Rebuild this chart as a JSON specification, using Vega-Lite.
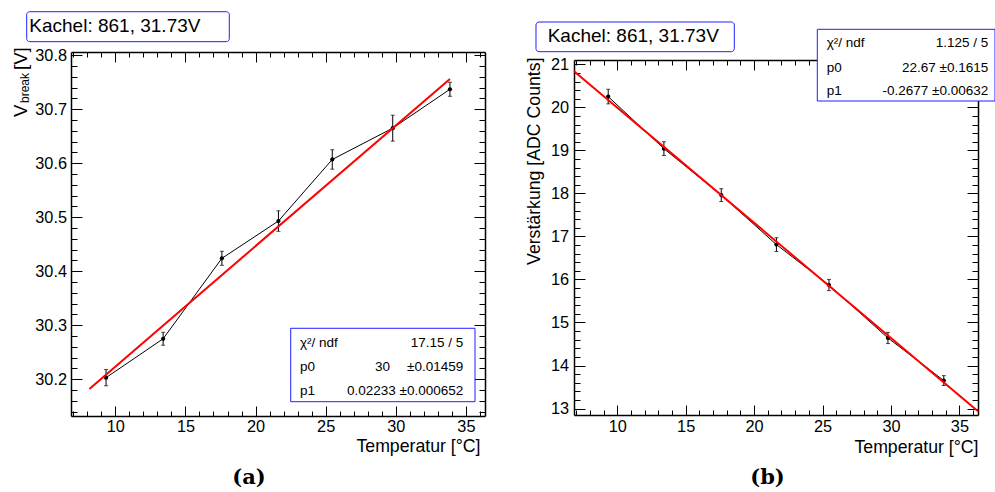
{
  "$schema": "https://vega.github.io/schema/vega-lite/v6.json",
  "autosize": {"type": "pad"},
  "padding": {"left": 11, "top": 11, "right": 0, "bottom": 0},
  "background": "white",
  "config": {
    "view": {"stroke": null},
    "font": "Liberation Sans",
    "axis": {
      "grid": false,
      "labelFont": "Liberation Sans",
      "labelFontSize": 16.3,
      "labelColor": "black",
      "labelFlush": false,
      "labelOverlap": false,
      "labelBound": false,
      "tickColor": "black",
      "tickWidth": 1,
      "domainColor": "black",
      "domainWidth": 1.5,
      "titleFont": "Liberation Sans",
      "titleFontSize": 17.7,
      "titleFontWeight": "normal",
      "titleColor": "black"
    }
  },
  "datasets": {
    "messung": [
      {"T": 9.34, "V": 30.203, "dV": 0.015, "G": 20.25, "dG": 0.17},
      {"T": 13.41, "V": 30.275, "dV": 0.012, "G": 19.04, "dG": 0.16},
      {"T": 17.6, "V": 30.424, "dV": 0.013, "G": 17.96, "dG": 0.15},
      {"T": 21.63, "V": 30.493, "dV": 0.019, "G": 16.81, "dG": 0.16},
      {"T": 25.47, "V": 30.607, "dV": 0.018, "G": 15.87, "dG": 0.13},
      {"T": 29.78, "V": 30.665, "dV": 0.024, "G": 14.64, "dG": 0.13},
      {"T": 33.86, "V": 30.737, "dV": 0.013, "G": 13.65, "dG": 0.115}
    ],
    "fitV": [{"T": 8.15, "V": 30.182}, {"T": 33.86, "V": 30.7561}],
    "fitG": [{"T": 6.84, "G": 20.8389}, {"T": 36.36, "G": 12.9364}]
  },
  "spacing": 89,
  "bounds": "flush",
  "hconcat": [
    {
      "width": 414,
      "height": 364,
      "resolve": {"axis": {"x": "independent", "y": "independent"}},
      "layer": [
        {
          "data": {"name": "messung"},
          "mark": {"type": "line", "color": "black", "strokeWidth": 1},
          "encoding": {
            "x": {"field": "T", "type": "quantitative", "scale": {"domain": [6.84, 36.36], "nice": false, "zero": false},
              "axis": {"orient": "bottom", "values": [7,8,9,10,11,12,13,14,15,16,17,18,19,20,21,22,23,24,25,26,27,28,29,30,31,32,33,34,35,36],
                "labelExpr": "datum.value % 5 === 0 ? datum.label : ''",
                "tickSize": {"condition": {"test": "datum.value % 5 === 0", "value": -10}, "value": -5},
                "labelPadding": 12,
                "title": "Temperatur [°C]", "titleAnchor": "end", "titleAlign": "right", "titleBaseline": "alphabetic", "titleX": 409, "titleY": 35.5}},
            "y": {"field": "V", "type": "quantitative", "scale": {"domain": [30.132, 30.806], "nice": false, "zero": false},
              "axis": {"orient": "left", "values": [30.14,30.16,30.18,30.2,30.22,30.24,30.26,30.28,30.3,30.32,30.34,30.36,30.38,30.4,30.42,30.44,30.46,30.48,30.5,30.52,30.54,30.56,30.58,30.6,30.62,30.64,30.66,30.68,30.7,30.72,30.74,30.76,30.78,30.8],
                "labelExpr": "abs(datum.value*10 - round(datum.value*10)) < 0.001 ? format(datum.value, '.1f') : ''",
                "tickSize": {"condition": {"test": "abs(datum.value*10 - round(datum.value*10)) < 0.001", "value": -11}, "value": -6},
                "labelPadding": 15.5,
                "title": null}}
          }
        },
        {
          "data": {"name": "messung"},
          "mark": {"type": "errorbar", "color": "black", "thickness": 1, "ticks": {"size": 4, "thickness": 1, "color": "black"}},
          "encoding": {
            "x": {"field": "T", "type": "quantitative", "scale": {"domain": [6.84, 36.36], "nice": false, "zero": false}, "axis": null},
            "y": {"field": "V", "type": "quantitative", "scale": {"domain": [30.132, 30.806], "nice": false, "zero": false}, "axis": null},
            "yError": {"field": "dV"}
          }
        },
        {
          "data": {"name": "messung"},
          "mark": {"type": "point", "shape": "circle", "filled": true, "color": "black", "size": 18, "opacity": 1},
          "encoding": {
            "x": {"field": "T", "type": "quantitative", "scale": {"domain": [6.84, 36.36], "nice": false, "zero": false}, "axis": null},
            "y": {"field": "V", "type": "quantitative", "scale": {"domain": [30.132, 30.806], "nice": false, "zero": false}, "axis": null}
          }
        },
        {
          "data": {"name": "fitV"},
          "mark": {"type": "line", "color": "#ff0000", "strokeWidth": 2},
          "encoding": {
            "x": {"field": "T", "type": "quantitative", "scale": {"domain": [6.84, 36.36], "nice": false, "zero": false},
              "axis": {"orient": "top", "labels": false, "title": null, "values": [7,8,9,10,11,12,13,14,15,16,17,18,19,20,21,22,23,24,25,26,27,28,29,30,31,32,33,34,35,36],
                "tickSize": {"condition": {"test": "datum.value % 5 === 0", "value": -10}, "value": -5}}},
            "y": {"field": "V", "type": "quantitative", "scale": {"domain": [30.132, 30.806], "nice": false, "zero": false},
              "axis": {"orient": "right", "labels": false, "title": null, "values": [30.14,30.16,30.18,30.2,30.22,30.24,30.26,30.28,30.3,30.32,30.34,30.36,30.38,30.4,30.42,30.44,30.46,30.48,30.5,30.52,30.54,30.56,30.58,30.6,30.62,30.64,30.66,30.68,30.7,30.72,30.74,30.76,30.78,30.8],
                "tickSize": {"condition": {"test": "abs(datum.value*10 - round(datum.value*10)) < 0.001", "value": -11}, "value": -6}}}
          }
        },
        {
          "data": {"values": [{}]},
          "mark": {"type": "rect", "fill": "white", "stroke": "#1f1fff", "strokeWidth": 1, "cornerRadius": 3, "clip": false},
          "encoding": {
            "x": {"datum": 3.681, "type": "quantitative", "scale": {"domain": [6.84, 36.36], "nice": false, "zero": false}, "axis": null},
            "x2": {"datum": 18.128},
            "y": {"datum": 30.8806, "type": "quantitative", "scale": {"domain": [30.132, 30.806], "nice": false, "zero": false}, "axis": null},
            "y2": {"datum": 30.8251}
          }
        },
        {
          "data": {"values": [{}]},
          "mark": {"type": "text", "text": "Kachel: 861, 31.73V", "align": "left", "baseline": "alphabetic", "fontSize": 19, "font": "Liberation Sans", "color": "black", "clip": false},
          "encoding": {
            "x": {"datum": 3.867, "type": "quantitative", "scale": {"domain": [6.84, 36.36], "nice": false, "zero": false}, "axis": null},
            "y": {"datum": 30.8436, "type": "quantitative", "scale": {"domain": [30.132, 30.806], "nice": false, "zero": false}, "axis": null}
          }
        },
        {
          "data": {"values": [{}]},
          "mark": {"type": "rect", "fill": "white", "stroke": "#1f1fff", "strokeWidth": 1, "clip": false},
          "encoding": {
            "x": {"datum": 22.506, "type": "quantitative", "scale": {"domain": [6.84, 36.36], "nice": false, "zero": false}, "axis": null},
            "x2": {"datum": 35.648},
            "y": {"datum": 30.2944, "type": "quantitative", "scale": {"domain": [30.132, 30.806], "nice": false, "zero": false}, "axis": null},
            "y2": {"datum": 30.1585}
          }
        },
        {
          "data": {"values": [{}]},
          "mark": {"type": "text", "text": "χ²/ ndf", "align": "left", "baseline": "alphabetic", "fontSize": 13.5, "color": "black", "clip": false},
          "encoding": {
            "x": {"datum": 23.169, "type": "quantitative", "scale": {"domain": [6.84, 36.36], "nice": false, "zero": false}, "axis": null},
            "y": {"datum": 30.2603, "type": "quantitative", "scale": {"domain": [30.132, 30.806], "nice": false, "zero": false}, "axis": null}
          }
        },
        {
          "data": {"values": [{}]},
          "mark": {"type": "text", "text": "17.15 / 5", "align": "right", "baseline": "alphabetic", "fontSize": 13.5, "color": "black", "clip": false},
          "encoding": {
            "x": {"datum": 34.814, "type": "quantitative", "scale": {"domain": [6.84, 36.36], "nice": false, "zero": false}, "axis": null},
            "y": {"datum": 30.2603, "type": "quantitative", "scale": {"domain": [30.132, 30.806], "nice": false, "zero": false}, "axis": null}
          }
        },
        {
          "data": {"values": [{}]},
          "mark": {"type": "text", "text": "p0", "align": "left", "baseline": "alphabetic", "fontSize": 13.5, "color": "black", "clip": false},
          "encoding": {
            "x": {"datum": 23.169, "type": "quantitative", "scale": {"domain": [6.84, 36.36], "nice": false, "zero": false}, "axis": null},
            "y": {"datum": 30.2159, "type": "quantitative", "scale": {"domain": [30.132, 30.806], "nice": false, "zero": false}, "axis": null}
          }
        },
        {
          "data": {"values": [{}]},
          "mark": {"type": "text", "text": "30", "align": "right", "baseline": "alphabetic", "fontSize": 13.5, "color": "black", "clip": false},
          "encoding": {
            "x": {"datum": 29.587, "type": "quantitative", "scale": {"domain": [6.84, 36.36], "nice": false, "zero": false}, "axis": null},
            "y": {"datum": 30.2159, "type": "quantitative", "scale": {"domain": [30.132, 30.806], "nice": false, "zero": false}, "axis": null}
          }
        },
        {
          "data": {"values": [{}]},
          "mark": {"type": "text", "text": "±0.01459", "align": "right", "baseline": "alphabetic", "fontSize": 13.5, "color": "black", "clip": false},
          "encoding": {
            "x": {"datum": 34.814, "type": "quantitative", "scale": {"domain": [6.84, 36.36], "nice": false, "zero": false}, "axis": null},
            "y": {"datum": 30.2159, "type": "quantitative", "scale": {"domain": [30.132, 30.806], "nice": false, "zero": false}, "axis": null}
          }
        },
        {
          "data": {"values": [{}]},
          "mark": {"type": "text", "text": "p1", "align": "left", "baseline": "alphabetic", "fontSize": 13.5, "color": "black", "clip": false},
          "encoding": {
            "x": {"datum": 23.169, "type": "quantitative", "scale": {"domain": [6.84, 36.36], "nice": false, "zero": false}, "axis": null},
            "y": {"datum": 30.1714, "type": "quantitative", "scale": {"domain": [30.132, 30.806], "nice": false, "zero": false}, "axis": null}
          }
        },
        {
          "data": {"values": [{}]},
          "mark": {"type": "text", "text": "0.02233 ±0.000652", "align": "right", "baseline": "alphabetic", "fontSize": 13.5, "color": "black", "clip": false},
          "encoding": {
            "x": {"datum": 34.814, "type": "quantitative", "scale": {"domain": [6.84, 36.36], "nice": false, "zero": false}, "axis": null},
            "y": {"datum": 30.1714, "type": "quantitative", "scale": {"domain": [30.132, 30.806], "nice": false, "zero": false}, "axis": null}
          }
        },
        {
          "data": {"values": [{}]},
          "mark": {"type": "text", "text": "V", "angle": 270, "align": "left", "baseline": "alphabetic", "fontSize": 18.5, "color": "black", "clip": false},
          "encoding": {
            "x": {"datum": 3.667, "type": "quantitative", "scale": {"domain": [6.84, 36.36], "nice": false, "zero": false}, "axis": null},
            "y": {"datum": 30.6856, "type": "quantitative", "scale": {"domain": [30.132, 30.806], "nice": false, "zero": false}, "axis": null}
          }
        },
        {
          "data": {"values": [{}]},
          "mark": {"type": "text", "text": "break", "angle": 270, "align": "left", "baseline": "alphabetic", "fontSize": 12, "color": "black", "clip": false},
          "encoding": {
            "x": {"datum": 3.88, "type": "quantitative", "scale": {"domain": [6.84, 36.36], "nice": false, "zero": false}, "axis": null},
            "y": {"datum": 30.7116, "type": "quantitative", "scale": {"domain": [30.132, 30.806], "nice": false, "zero": false}, "axis": null}
          }
        },
        {
          "data": {"values": [{}]},
          "mark": {"type": "text", "text": "[V]", "angle": 270, "align": "left", "baseline": "alphabetic", "fontSize": 18.5, "color": "black", "clip": false},
          "encoding": {
            "x": {"datum": 3.667, "type": "quantitative", "scale": {"domain": [6.84, 36.36], "nice": false, "zero": false}, "axis": null},
            "y": {"datum": 30.7727, "type": "quantitative", "scale": {"domain": [30.132, 30.806], "nice": false, "zero": false}, "axis": null}
          }
        },
        {
          "data": {"values": [{}]},
          "mark": {"type": "text", "text": "(a)", "align": "center", "baseline": "alphabetic", "fontSize": 21, "font": "DejaVu Serif", "fontWeight": "bold", "color": "black", "clip": false},
          "encoding": {
            "x": {"datum": 19.533, "type": "quantitative", "scale": {"domain": [6.84, 36.36], "nice": false, "zero": false}, "axis": null},
            "y": {"datum": 30.0055, "type": "quantitative", "scale": {"domain": [30.132, 30.806], "nice": false, "zero": false}, "axis": null}
          }
        }
      ]
    },
    {
      "spacing": 0,
      "bounds": "flush",
      "vconcat": [
        {
          "width": 404,
          "height": 8,
          "data": {"values": []},
          "mark": {"type": "text"},
          "encoding": {}
        },
        {
          "width": 404,
          "height": 355,
          "resolve": {"axis": {"x": "independent", "y": "independent"}},
          "layer": [
            {
              "data": {"name": "messung"},
              "mark": {"type": "line", "color": "black", "strokeWidth": 1},
              "encoding": {
                "x": {"field": "T", "type": "quantitative", "scale": {"domain": [6.84, 36.36], "nice": false, "zero": false},
                  "axis": {"orient": "bottom", "values": [7,8,9,10,11,12,13,14,15,16,17,18,19,20,21,22,23,24,25,26,27,28,29,30,31,32,33,34,35,36],
                    "labelExpr": "datum.value % 5 === 0 ? datum.label : ''",
                    "tickSize": {"condition": {"test": "datum.value % 5 === 0", "value": -10}, "value": -5},
                    "labelPadding": 13,
                    "title": "Temperatur [°C]", "titleAnchor": "end", "titleAlign": "right", "titleBaseline": "alphabetic", "titleX": 404, "titleY": 37}},
                "y": {"field": "G", "type": "quantitative", "scale": {"domain": [12.85, 21.1], "nice": false, "zero": false},
                  "axis": {"orient": "left", "values": [13,13.2,13.4,13.6,13.8,14,14.2,14.4,14.6,14.8,15,15.2,15.4,15.6,15.8,16,16.2,16.4,16.6,16.8,17,17.2,17.4,17.6,17.8,18,18.2,18.4,18.6,18.8,19,19.2,19.4,19.6,19.8,20,20.2,20.4,20.6,20.8,21],
                    "labelExpr": "abs(datum.value - round(datum.value)) < 0.001 ? format(datum.value, 'd') : ''",
                    "tickSize": {"condition": {"test": "abs(datum.value - round(datum.value)) < 0.001", "value": -11}, "value": -6},
                    "labelPadding": 16.5,
                    "title": "Verstärkung [ADC Counts]", "titleAngle": 270, "titleAlign": "right", "titleBaseline": "alphabetic", "titleX": -34.5, "titleY": -3}}
              }
            },
            {
              "data": {"name": "messung"},
              "mark": {"type": "errorbar", "color": "black", "thickness": 1, "ticks": {"size": 4, "thickness": 1, "color": "black"}},
              "encoding": {
                "x": {"field": "T", "type": "quantitative", "scale": {"domain": [6.84, 36.36], "nice": false, "zero": false}, "axis": null},
                "y": {"field": "G", "type": "quantitative", "scale": {"domain": [12.85, 21.1], "nice": false, "zero": false}, "axis": null},
                "yError": {"field": "dG"}
              }
            },
            {
              "data": {"name": "messung"},
              "mark": {"type": "point", "shape": "circle", "filled": true, "color": "black", "size": 18, "opacity": 1},
              "encoding": {
                "x": {"field": "T", "type": "quantitative", "scale": {"domain": [6.84, 36.36], "nice": false, "zero": false}, "axis": null},
                "y": {"field": "G", "type": "quantitative", "scale": {"domain": [12.85, 21.1], "nice": false, "zero": false}, "axis": null}
              }
            },
            {
              "data": {"name": "fitG"},
              "mark": {"type": "line", "color": "#ff0000", "strokeWidth": 2},
              "encoding": {
                "x": {"field": "T", "type": "quantitative", "scale": {"domain": [6.84, 36.36], "nice": false, "zero": false},
                  "axis": {"orient": "top", "labels": false, "title": null, "values": [7,8,9,10,11,12,13,14,15,16,17,18,19,20,21,22,23,24,25,26,27,28,29,30,31,32,33,34,35,36],
                    "tickSize": {"condition": {"test": "datum.value % 5 === 0", "value": -10}, "value": -5}}},
                "y": {"field": "G", "type": "quantitative", "scale": {"domain": [12.85, 21.1], "nice": false, "zero": false},
                  "axis": {"orient": "right", "labels": false, "title": null, "values": [13,13.2,13.4,13.6,13.8,14,14.2,14.4,14.6,14.8,15,15.2,15.4,15.6,15.8,16,16.2,16.4,16.6,16.8,17,17.2,17.4,17.6,17.8,18,18.2,18.4,18.6,18.8,19,19.2,19.4,19.6,19.8,20,20.2,20.4,20.6,20.8,21],
                    "tickSize": {"condition": {"test": "abs(datum.value - round(datum.value)) < 0.001", "value": -11}, "value": -6}}}
              }
            },
            {
              "data": {"values": [{}]},
              "mark": {"type": "rect", "fill": "white", "stroke": "#1f1fff", "strokeWidth": 1, "cornerRadius": 3, "clip": false},
              "encoding": {
                "x": {"datum": 4.063, "type": "quantitative", "scale": {"domain": [6.84, 36.36], "nice": false, "zero": false}, "axis": null},
                "x2": {"datum": 18.553},
                "y": {"datum": 21.983, "type": "quantitative", "scale": {"domain": [12.85, 21.1], "nice": false, "zero": false}, "axis": null},
                "y2": {"datum": 21.293}
              }
            },
            {
              "data": {"values": [{}]},
              "mark": {"type": "text", "text": "Kachel: 861, 31.73V", "align": "left", "baseline": "alphabetic", "fontSize": 19, "color": "black", "clip": false},
              "encoding": {
                "x": {"datum": 4.918, "type": "quantitative", "scale": {"domain": [6.84, 36.36], "nice": false, "zero": false}, "axis": null},
                "y": {"datum": 21.525, "type": "quantitative", "scale": {"domain": [12.85, 21.1], "nice": false, "zero": false}, "axis": null}
              }
            },
            {
              "data": {"values": [{}]},
              "mark": {"type": "rect", "fill": "white", "stroke": "#1f1fff", "strokeWidth": 1, "clip": false},
              "encoding": {
                "x": {"datum": 24.618, "type": "quantitative", "scale": {"domain": [6.84, 36.36], "nice": false, "zero": false}, "axis": null},
                "x2": {"datum": 37.602},
                "y": {"datum": 21.813, "type": "quantitative", "scale": {"domain": [12.85, 21.1], "nice": false, "zero": false}, "axis": null},
                "y2": {"datum": 20.147}
              }
            },
            {
              "data": {"values": [{}]},
              "mark": {"type": "text", "text": "χ²/ ndf", "align": "left", "baseline": "alphabetic", "fontSize": 13.5, "color": "black", "clip": false},
              "encoding": {
                "x": {"datum": 25.304, "type": "quantitative", "scale": {"domain": [6.84, 36.36], "nice": false, "zero": false}, "axis": null},
                "y": {"datum": 21.3905, "type": "quantitative", "scale": {"domain": [12.85, 21.1], "nice": false, "zero": false}, "axis": null}
              }
            },
            {
              "data": {"values": [{}]},
              "mark": {"type": "text", "text": "1.125 / 5", "align": "right", "baseline": "alphabetic", "fontSize": 13.5, "color": "black", "clip": false},
              "encoding": {
                "x": {"datum": 37.112, "type": "quantitative", "scale": {"domain": [6.84, 36.36], "nice": false, "zero": false}, "axis": null},
                "y": {"datum": 21.3905, "type": "quantitative", "scale": {"domain": [12.85, 21.1], "nice": false, "zero": false}, "axis": null}
              }
            },
            {
              "data": {"values": [{}]},
              "mark": {"type": "text", "text": "p0", "align": "left", "baseline": "alphabetic", "fontSize": 13.5, "color": "black", "clip": false},
              "encoding": {
                "x": {"datum": 25.304, "type": "quantitative", "scale": {"domain": [6.84, 36.36], "nice": false, "zero": false}, "axis": null},
                "y": {"datum": 20.8327, "type": "quantitative", "scale": {"domain": [12.85, 21.1], "nice": false, "zero": false}, "axis": null}
              }
            },
            {
              "data": {"values": [{}]},
              "mark": {"type": "text", "text": "22.67 ±0.1615", "align": "right", "baseline": "alphabetic", "fontSize": 13.5, "color": "black", "clip": false},
              "encoding": {
                "x": {"datum": 37.112, "type": "quantitative", "scale": {"domain": [6.84, 36.36], "nice": false, "zero": false}, "axis": null},
                "y": {"datum": 20.8327, "type": "quantitative", "scale": {"domain": [12.85, 21.1], "nice": false, "zero": false}, "axis": null}
              }
            },
            {
              "data": {"values": [{}]},
              "mark": {"type": "text", "text": "p1", "align": "left", "baseline": "alphabetic", "fontSize": 13.5, "color": "black", "clip": false},
              "encoding": {
                "x": {"datum": 25.304, "type": "quantitative", "scale": {"domain": [6.84, 36.36], "nice": false, "zero": false}, "axis": null},
                "y": {"datum": 20.2796, "type": "quantitative", "scale": {"domain": [12.85, 21.1], "nice": false, "zero": false}, "axis": null}
              }
            },
            {
              "data": {"values": [{}]},
              "mark": {"type": "text", "text": "-0.2677 ±0.00632", "align": "right", "baseline": "alphabetic", "fontSize": 13.5, "color": "black", "clip": false},
              "encoding": {
                "x": {"datum": 37.112, "type": "quantitative", "scale": {"domain": [6.84, 36.36], "nice": false, "zero": false}, "axis": null},
                "y": {"datum": 20.2796, "type": "quantitative", "scale": {"domain": [12.85, 21.1], "nice": false, "zero": false}, "axis": null}
              }
            },
            {
              "data": {"values": [{}]},
              "mark": {"type": "text", "text": "(b)", "align": "center", "baseline": "alphabetic", "fontSize": 21, "font": "DejaVu Serif", "fontWeight": "bold", "color": "black", "clip": false},
              "encoding": {
                "x": {"datum": 20.979, "type": "quantitative", "scale": {"domain": [6.84, 36.36], "nice": false, "zero": false}, "axis": null},
                "y": {"datum": 11.2394, "type": "quantitative", "scale": {"domain": [12.85, 21.1], "nice": false, "zero": false}, "axis": null}
              }
            }
          ]
        }
      ]
    }
  ]
}
